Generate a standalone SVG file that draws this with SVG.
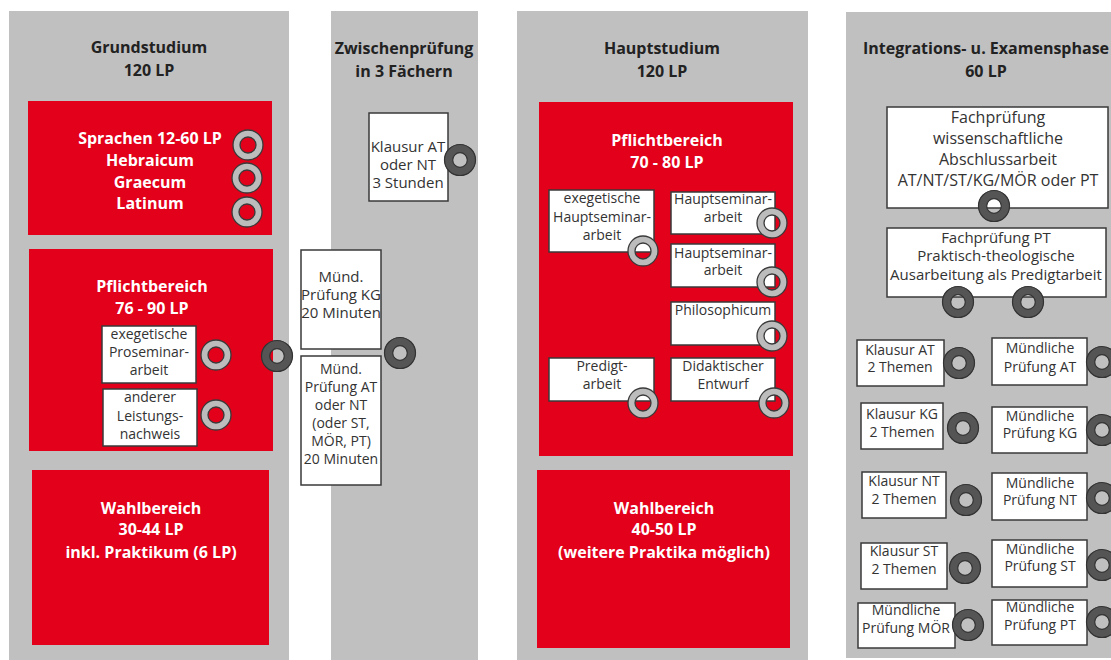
<svg xmlns="http://www.w3.org/2000/svg" width="1111" height="660" viewBox="0 0 1111 660">
<style>
.col{fill:#c0c0c0}
.red{fill:#e2001a}
.box{fill:#fff;stroke:#3a3a3a;stroke-width:1.5}
.h{font-family:"Open Sans","Liberation Sans",sans-serif;font-weight:bold;font-size:16px;fill:#222;text-anchor:middle}
.w{font-family:"Open Sans","Liberation Sans",sans-serif;font-weight:bold;font-size:16px;fill:#fff;text-anchor:middle}
.t{font-family:"Open Sans","Liberation Sans",sans-serif;font-size:14px;fill:#333;text-anchor:middle}
.t15{font-size:15px}
.t16{font-size:16px}
</style>
<defs>
<g id="ringL"><circle r="11.5" fill="none" stroke="#bcbcbc" stroke-width="7"/><circle r="15" fill="none" stroke="#3a3a3a" stroke-width="1.3"/><circle r="8" fill="none" stroke="#3a3a3a" stroke-width="1.3"/></g>
<g id="ringD"><circle r="11.5" fill="none" stroke="#555" stroke-width="8.5"/><circle r="15.5" fill="none" stroke="#333" stroke-width="1.2"/><circle r="7.3" fill="none" stroke="#333" stroke-width="1.2"/></g>
</defs>
<rect width="1111" height="660" fill="#fff"/>
<g id="grundstudium">
<rect class="col" x="9" y="11" width="280" height="649"/>
<text class="h" x="149" y="53">Grundstudium</text>
<text class="h" x="149" y="76">120 LP</text>
</g>
<g id="zwischenpruefung">
<rect class="col" x="331" y="11" width="147" height="649"/>
<text class="h" x="404" y="54">Zwischenprüfung</text>
<text class="h" x="404" y="77">in 3 Fächern</text>
</g>
<g id="hauptstudium">
<rect class="col" x="517" y="11" width="291" height="649"/>
<text class="h" x="662" y="54">Hauptstudium</text>
<text class="h" x="662" y="77">120 LP</text>
</g>
<g id="integrationsphase">
<rect class="col" x="846" y="12" width="265" height="646"/>
<text class="h" x="986" y="54">Integrations- u. Examensphase</text>
<text class="h" x="986" y="77">60 LP</text>
</g>
<g id="sprachen">
<rect class="red" x="28" y="101" width="244" height="134"/>
<text class="w" x="150" y="144">Sprachen 12-60 LP</text>
<text class="w" x="150" y="166">Hebraicum</text>
<text class="w" x="150" y="188">Graecum</text>
<text class="w" x="150" y="209">Latinum</text>
<use href="#ringL" x="248" y="145"/>
<use href="#ringL" x="247" y="178"/>
<use href="#ringL" x="247" y="212"/>
</g>
<g id="pflicht-grund">
<rect class="red" x="29" y="249" width="244" height="202"/>
<text class="w" x="152" y="292">Pflichtbereich</text>
<text class="w" x="152" y="314">76 - 90 LP</text>
</g>
<g id="proseminar">
<rect class="box" x="102" y="326" width="94" height="57"/>
<text class="t" x="149" y="339">exegetische</text>
<text class="t" x="149" y="357">Proseminar-</text>
<text class="t" x="149" y="375">arbeit</text>
<use href="#ringL" x="216" y="355"/>
</g>
<g id="leistungsnachweis">
<rect class="box" x="103" y="389" width="94" height="57"/>
<text class="t" x="150" y="402">anderer</text>
<text class="t" x="150" y="421">Leistungs-</text>
<text class="t" x="150" y="439">nachweis</text>
<use href="#ringL" x="216" y="415"/>
</g>
<g id="wahl-grund">
<rect class="red" x="32" y="470" width="237" height="175"/>
<text class="w" x="151" y="514">Wahlbereich</text>
<text class="w" x="151" y="535">30-44 LP</text>
<text class="w" x="151" y="558">inkl. Praktikum (6 LP)</text>
</g>
<g id="klausur-zp">
<rect class="box" x="369" y="113" width="79" height="88"/>
<text class="t t15" x="408" y="152">Klausur AT</text>
<text class="t t15" x="408" y="170">oder NT</text>
<text class="t t15" x="408" y="188">3 Stunden</text>
<use href="#ringD" x="460" y="160"/>
</g>
<g id="muend-kg">
<rect class="box" x="301" y="250" width="80" height="99"/>
<text class="t t15" x="341" y="282">Münd.</text>
<text class="t t15" x="341" y="300">Prüfung KG</text>
<text class="t t15" x="341" y="318">20 Minuten</text>
</g>
<g id="muend-at">
<rect class="box" x="301" y="356" width="80" height="129"/>
<text class="t" x="341" y="374">Münd.</text>
<text class="t" x="341" y="392">Prüfung AT</text>
<text class="t" x="341" y="410">oder NT</text>
<text class="t" x="341" y="428">(oder ST,</text>
<text class="t" x="341" y="446">MÖR, PT)</text>
<text class="t" x="341" y="464">20 Minuten</text>
</g>
<g id="pflicht-haupt">
<rect class="red" x="539" y="102" width="254" height="354"/>
<text class="w" x="667" y="146">Pflichtbereich</text>
<text class="w" x="667" y="168">70 - 80 LP</text>
</g>
<g id="exeg-hauptseminar">
<rect class="box" x="549" y="190" width="105" height="62"/>
<text class="t" x="602" y="203">exegetische</text>
<text class="t" x="602" y="222">Hauptseminar-</text>
<text class="t" x="602" y="240">arbeit</text>
<use href="#ringL" x="643" y="251"/>
</g>
<g id="hauptseminar1">
<rect class="box" x="671" y="192" width="104" height="42"/>
<text class="t" x="723" y="204">Hauptseminar-</text>
<text class="t" x="723" y="222">arbeit</text>
<use href="#ringL" x="772" y="223"/>
</g>
<g id="hauptseminar2">
<rect class="box" x="671" y="244" width="104" height="43"/>
<text class="t" x="723" y="258">Hauptseminar-</text>
<text class="t" x="723" y="275">arbeit</text>
<use href="#ringL" x="772" y="282"/>
</g>
<g id="philosophicum">
<rect class="box" x="671" y="302" width="104" height="43"/>
<text class="t" x="723" y="315">Philosophicum</text>
<use href="#ringL" x="772" y="336"/>
</g>
<g id="predigtarbeit">
<rect class="box" x="549" y="358" width="105" height="43"/>
<text class="t" x="602" y="371">Predigt-</text>
<text class="t" x="602" y="389">arbeit</text>
<use href="#ringL" x="643" y="403"/>
</g>
<g id="didaktik">
<rect class="box" x="671" y="358" width="104" height="43"/>
<text class="t" x="723" y="371">Didaktischer</text>
<text class="t" x="723" y="389">Entwurf</text>
<use href="#ringL" x="774" y="403"/>
</g>
<g id="wahl-haupt">
<rect class="red" x="537" y="470" width="253" height="178"/>
<text class="w" x="664" y="514">Wahlbereich</text>
<text class="w" x="664" y="535">40-50 LP</text>
<text class="w" x="664" y="558">(weitere Praktika möglich)</text>
</g>
<g id="abschlussarbeit">
<rect class="box" x="887" y="107" width="221" height="101"/>
<text class="t t16" x="998" y="123">Fachprüfung</text>
<text class="t t16" x="998" y="144">wissenschaftliche</text>
<text class="t t16" x="998" y="165">Abschlussarbeit</text>
<text class="t t16" x="998" y="186">AT/NT/ST/KG/MÖR oder PT</text>
<use href="#ringD" x="994" y="206"/>
</g>
<g id="fachpruefung-pt">
<rect class="box" x="887" y="228" width="219" height="69"/>
<text class="t t15" x="996" y="243">Fachprüfung PT</text>
<text class="t t15" x="996" y="261">Praktisch-theologische</text>
<text class="t t15" x="996" y="280">Ausarbeitung als Predigtarbeit</text>
<use href="#ringD" x="958" y="302"/>
<use href="#ringD" x="1028" y="302"/>
</g>
<g id="klausur-at">
<rect class="box" x="857" y="340" width="87" height="46"/>
<text class="t" x="900" y="355">Klausur AT</text>
<text class="t" x="900" y="372">2 Themen</text>
<use href="#ringD" x="959" y="363"/>
</g>
<g id="klausur-kg">
<rect class="box" x="861" y="403" width="82" height="46"/>
<text class="t" x="902" y="419">Klausur KG</text>
<text class="t" x="902" y="437">2 Themen</text>
<use href="#ringD" x="963" y="428"/>
</g>
<g id="klausur-nt">
<rect class="box" x="862" y="472" width="84" height="46"/>
<text class="t" x="904" y="486">Klausur NT</text>
<text class="t" x="904" y="504">2 Themen</text>
<use href="#ringD" x="966" y="500"/>
</g>
<g id="klausur-st">
<rect class="box" x="861" y="543" width="86" height="46"/>
<text class="t" x="904" y="556">Klausur ST</text>
<text class="t" x="904" y="574">2 Themen</text>
<use href="#ringD" x="965" y="568"/>
</g>
<g id="muendlich-moer">
<rect class="box" x="858" y="603" width="97" height="45"/>
<text class="t" x="906" y="615">Mündliche</text>
<text class="t" x="906" y="633">Prüfung  MÖR</text>
<use href="#ringD" x="968" y="625"/>
</g>
<g id="muendlich-at">
<rect class="box" x="992" y="338" width="95" height="47"/>
<text class="t" x="1040" y="353">Mündliche</text>
<text class="t" x="1040" y="372">Prüfung  AT</text>
<use href="#ringD" x="1102" y="362"/>
</g>
<g id="muendlich-kg">
<rect class="box" x="992" y="407" width="95" height="46"/>
<text class="t" x="1040" y="421">Mündliche</text>
<text class="t" x="1040" y="438">Prüfung  KG</text>
<use href="#ringD" x="1102" y="430"/>
</g>
<g id="muendlich-nt">
<rect class="box" x="992" y="473" width="95" height="47"/>
<text class="t" x="1040" y="488">Mündliche</text>
<text class="t" x="1040" y="505">Prüfung  NT</text>
<use href="#ringD" x="1102" y="498"/>
</g>
<g id="muendlich-st">
<rect class="box" x="992" y="540" width="95" height="47"/>
<text class="t" x="1040" y="554">Mündliche</text>
<text class="t" x="1040" y="571">Prüfung  ST</text>
<use href="#ringD" x="1102" y="565"/>
</g>
<g id="muendlich-pt">
<rect class="box" x="992" y="600" width="95" height="45"/>
<text class="t" x="1040" y="612">Mündliche</text>
<text class="t" x="1040" y="630">Prüfung  PT</text>
<use href="#ringD" x="1102" y="622"/>
</g>
<g id="rings-zp">
<use href="#ringD" x="277" y="356"/>
<use href="#ringD" x="400" y="353"/>
</g>
<g id="connectors"/>
</svg>
